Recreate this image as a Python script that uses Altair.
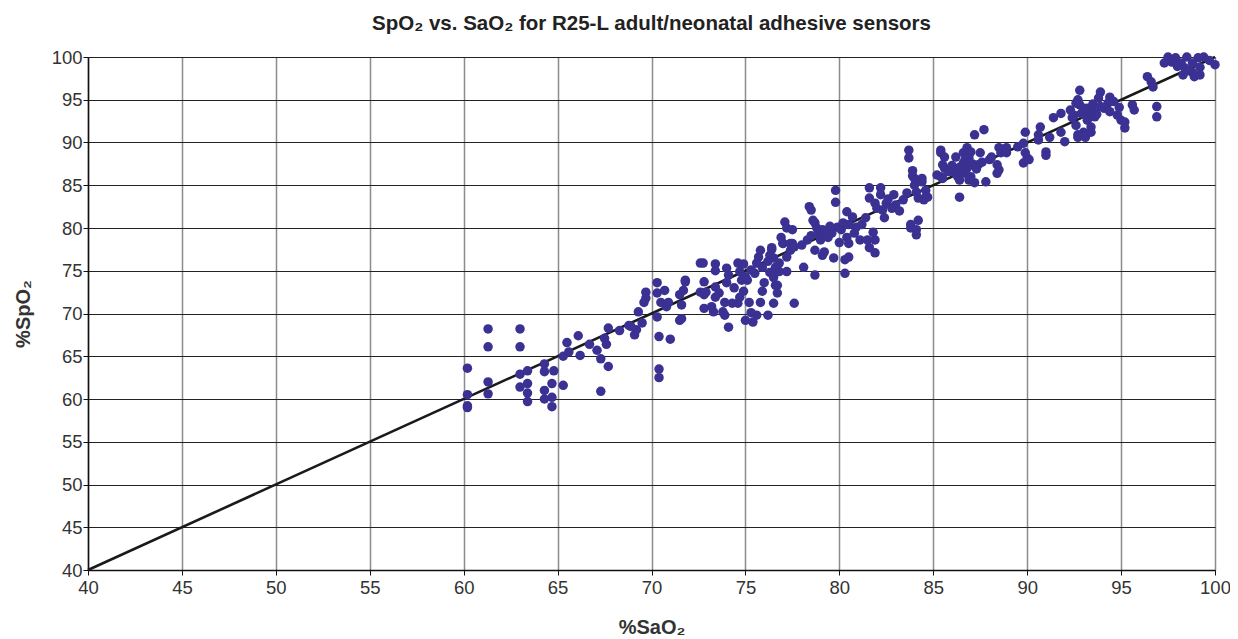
import altair as alt
import pandas as pd

# %SaO2 (x) and %SpO2 (y) values
sao2 = [
    60.2, 60.2, 60.2, 60.2,
    61.3, 61.3, 61.3, 61.3,
    63.0, 63.0, 63.0, 63.0,
    63.4, 63.4, 63.4, 63.4,
    64.3, 64.3, 64.3, 64.3,
    64.8, 64.7, 64.7, 64.7,
    65.3, 65.3, 65.6, 65.5,
    66.1, 66.2, 66.7, 67.1, 67.3, 67.3, 67.7,
    67.5, 67.6, 67.7, 68.3, 68.8,
    69.1, 69.2, 68.9, 69.5, 69.3, 69.6, 69.7, 69.7,
    70.3, 70.3, 70.7, 70.5, 70.8, 70.3, 70.4, 71.0, 70.4, 70.4,
    71.5, 71.6, 71.5, 71.7, 71.8, 71.8, 71.6, 70.9,
    72.6, 72.75, 73.4, 73.4, 74.0, 74.6, 74.9, 74.1, 74.0, 74.7, 74.8, 75.1, 75.5,
    75.7, 75.8, 76.4, 77.0, 77.5, 76.5, 76.8, 77.2, 77.4, 77.2, 77.6, 76.5, 76.7,
    76.6, 76.2, 75.6, 75.3, 75.4, 75.0, 74.1, 75.8, 75.2, 74.7, 74.6, 74.3, 73.9,
    73.8, 73.9, 73.3, 73.2, 72.8, 73.4, 72.8, 72.8, 73.4, 72.6, 72.9, 76.5, 76.0,
    75.0, 75.3, 75.9, 76.2, 75.6, 74.4, 75.9, 76.3, 74.9, 73.6,
    79.8, 79.8, 78.4, 78.5, 77.1, 77.2, 77.5, 76.9, 77.0, 76.4, 76.3, 77.4, 77.6,
    78.0, 78.7, 78.8, 79.1, 79.3, 79.6, 79.9, 80.1, 80.4, 80.7, 80.5, 80.9, 80.4,
    80.5, 80.8, 81.1, 81.5, 81.6, 81.9, 81.8, 81.9, 81.4, 81.6, 81.6, 82.2, 82.2,
    81.9, 82.0, 82.3, 82.4, 82.5, 82.9, 83.0, 83.4, 83.6, 83.8, 83.8, 84.1, 84.1,
    84.2, 84.0, 84.1, 84.0, 84.4, 84.2, 84.6, 85.4,
    78.1, 78.7, 80.3, 80.3, 79.7, 80.5, 79.1, 79.2, 78.7, 76.6, 76.8, 76.5, 76.7,
    78.5, 78.9, 79.5, 80.2, 79.0, 79.4, 78.6, 78.3, 80.0, 82.8, 83.2, 82.6, 81.2,
    83.7, 83.7, 83.9, 83.9, 84.4, 84.6, 84.5,
    84.7, 85.4, 85.4, 85.6, 85.5, 85.6, 85.2, 85.5, 86.2, 86.4, 86.1, 86.3, 86.4,
    86.4, 86.6, 86.8, 87.0, 86.9, 86.6, 86.8, 86.7, 86.5, 87.0, 86.9, 87.2, 87.8,
    87.2, 87.7, 87.5, 87.6, 87.4, 87.3, 88.0, 88.1, 88.5, 88.6, 88.9, 88.9, 88.4,
    88.5, 88.4, 89.5, 89.8, 89.9, 90.0, 89.8, 90.1, 89.9, 90.6, 90.7, 90.6, 91.0,
    91.0, 91.2, 91.4, 91.8, 91.8, 92.0, 92.4, 92.6, 92.7, 93.1, 93.4, 92.9, 93.2,
    86.0, 86.3, 86.7, 87.1, 85.8,
    97.5, 97.9, 97.3, 98.2, 98.5, 98.4, 98.8, 99.1, 99.2, 99.2, 98.9, 98.3, 99.4,
    99.7, 100.0, 98.8, 98.6, 97.7, 98.0,
    96.4, 96.6, 96.7, 96.9, 96.9, 95.6, 95.7, 94.8, 95.0, 95.2, 95.2, 94.4, 93.9,
    93.8, 92.8, 92.7, 92.8, 92.3, 92.5, 92.9, 93.2, 93.5, 93.6, 93.2, 93.4, 93.0,
    92.7, 94.3, 94.1, 94.4,
    93.5, 93.9, 94.6, 93.0, 92.6, 94.9, 93.7,
]
spo2 = [
    63.6, 60.5, 59.2, 59.0,
    68.2, 66.1, 62.0, 60.6,
    68.2, 66.1, 62.9, 61.4,
    63.3, 61.8, 60.7, 59.7,
    64.1, 63.2, 61.0, 60.0,
    63.3, 61.8, 60.2, 59.1,
    61.6, 65.0, 65.5, 66.6,
    67.4, 65.1, 66.4, 65.7, 64.7, 60.9, 63.8,
    67.1, 66.4, 68.3, 68.0, 68.6,
    67.5, 68.1, 68.5, 68.9, 70.2, 71.3, 72.5, 71.8,
    73.6, 72.4, 72.7, 71.3, 70.8, 69.6, 67.3, 67.0, 63.5, 62.5,
    69.2, 71.0, 72.2, 72.7, 73.7, 73.9, 69.4, 71.3,
    75.9, 75.9, 75.8, 75.0, 75.3, 75.9, 75.8, 74.5, 73.6, 74.9, 73.9, 73.9, 74.7,
    76.6, 77.4, 77.5, 78.2, 78.2, 76.5, 75.9, 76.6, 77.4, 74.9, 71.2, 71.2, 72.4,
    73.3, 69.8, 69.8, 70.1, 69.0, 69.2, 68.4, 71.3, 71.3, 71.9, 71.2, 71.2, 71.3,
    70.2, 69.8, 70.2, 70.8, 70.6, 71.9, 72.2, 73.7, 73.1, 72.5, 72.5, 74.2, 73.6,
    74.3, 75.1, 75.4, 76.1, 75.9, 73.0, 72.6, 74.8, 72.6, 72.4,
    84.4, 83.0, 82.5, 82.1, 80.7, 80.0, 79.8, 78.9, 78.2, 77.7, 76.8, 78.2, 77.8,
    78.0, 80.6, 80.0, 79.8, 79.5, 79.4, 80.1, 79.8, 81.9, 81.3, 80.4, 80.1, 78.9,
    78.2, 79.4, 78.6, 78.6, 77.7, 78.6, 79.5, 77.1, 81.2, 84.7, 83.5, 84.7, 83.9,
    82.9, 82.3, 82.1, 81.2, 82.9, 83.9, 82.7, 83.3, 84.1, 80.4, 80.0, 79.8, 79.2,
    80.9, 85.0, 84.2, 85.8, 85.8, 83.5, 83.6, 86.0,
    75.4, 74.5, 74.7, 76.3, 76.5, 76.6, 76.8, 77.2, 77.4, 75.4, 74.9, 74.5, 73.3,
    79.1, 79.3, 80.2, 80.6, 78.6, 78.9, 80.9, 78.6, 78.3, 82.3, 82.0, 83.4, 80.4,
    89.1, 88.2, 86.7, 86.1, 85.4, 84.4, 83.3,
    83.6, 89.1, 88.8, 88.3, 87.4, 87.0, 86.2, 85.8, 88.3, 87.1, 86.5, 86.0, 85.6,
    83.6, 88.8, 89.4, 88.9, 88.2, 87.6, 87.0, 86.4, 86.5, 86.0, 85.6, 85.3, 85.4,
    90.9, 91.5, 88.8, 87.7, 87.4, 86.9, 88.0, 88.3, 89.4, 88.8, 89.4, 88.8, 87.4,
    86.8, 86.4, 89.5, 89.9, 88.8, 88.2, 87.6, 88.0, 91.2, 90.9, 91.8, 90.3, 88.9,
    88.5, 90.6, 92.9, 93.4, 91.2, 90.1, 92.9, 92.0, 90.6, 90.6, 91.2, 93.4, 93.0,
    87.3, 86.8, 88.0, 87.5, 86.6,
    100.0, 99.9, 99.3, 99.3, 100.0, 98.7, 99.3, 99.9, 98.8, 97.9, 97.7, 97.9, 100.0,
    99.6, 99.1, 98.2, 98.4, 99.4, 98.9,
    97.7, 97.1, 96.5, 94.2, 93.0, 94.4, 93.8, 93.2, 92.6, 92.4, 91.7, 95.3, 95.9,
    95.2, 96.1, 95.0, 94.4, 93.8, 93.2, 93.4, 94.0, 93.6, 93.0, 92.6, 91.8, 91.2,
    90.9, 94.6, 94.0, 93.6,
    94.5, 94.2, 94.8, 94.0, 94.6, 94.1, 93.3,
]
line_sao2 = [40, 100]
line_spo2 = [40, 100]
tick_values = [40, 45, 50, 55, 60, 65, 70, 75, 80, 85, 90, 95, 100]

points = pd.DataFrame({"SaO2": sao2, "SpO2": spo2})
identity = pd.DataFrame({"SaO2": line_sao2, "SpO2": line_spo2})

FONT = "Liberation Sans"

x_enc = alt.X(
    "SaO2:Q",
    scale=alt.Scale(domain=[40, 100], nice=False, zero=False),
    axis=alt.Axis(
        values=tick_values, title="%SaO₂", grid=True,
        gridColor="#8c8c8c", gridWidth=1.5,
        domainColor="#111111", domainWidth=1.5,
        tickColor="#111111", tickSize=5,
        labelFontSize=18.5, labelColor="#333333", labelFont=FONT, labelPadding=3,
        labelFlush=False,
        titleFontSize=20, titleFont=FONT, titleFontWeight="bold", titleColor="#333333",
        titlePadding=21,
    ),
)
y_enc = alt.Y(
    "SpO2:Q",
    scale=alt.Scale(domain=[40, 100], nice=False, zero=False),
    axis=alt.Axis(
        values=tick_values, title="%SpO₂", grid=True,
        gridColor="#222222", gridWidth=1.2,
        domainColor="#111111", domainWidth=1.5,
        tickColor="#111111", tickSize=5,
        labelFontSize=18.5, labelColor="#333333", labelFont=FONT, labelPadding=1,
        labelFlush=False,
        titleFontSize=20, titleFont=FONT, titleFontWeight="bold", titleColor="#333333",
        titlePadding=18,
    ),
)

line = alt.Chart(identity).mark_line(color="#1a1a1a", strokeWidth=2.6).encode(x=x_enc, y=y_enc)
dots = alt.Chart(points).mark_circle(size=90, color="#3a3193", opacity=1).encode(x="SaO2:Q", y="SpO2:Q")

chart = (
    alt.layer(line, dots)
    .properties(
        width=1127,
        height=513,
        autosize=alt.AutoSizeParams(type="none"),
        padding={"left": 80, "top": 49, "right": 15, "bottom": 68},
        title=alt.TitleParams(
            "SpO₂ vs. SaO₂ for R25-L adult/neonatal adhesive sensors",
            font=FONT, fontSize=20.5, fontWeight="bold", color="#222222",
            anchor="middle", offset=14,
        ),
    )
    .configure_view(stroke=None)
)

chart.save("out.html", embed_options={"renderer": "svg", "actions": False})
